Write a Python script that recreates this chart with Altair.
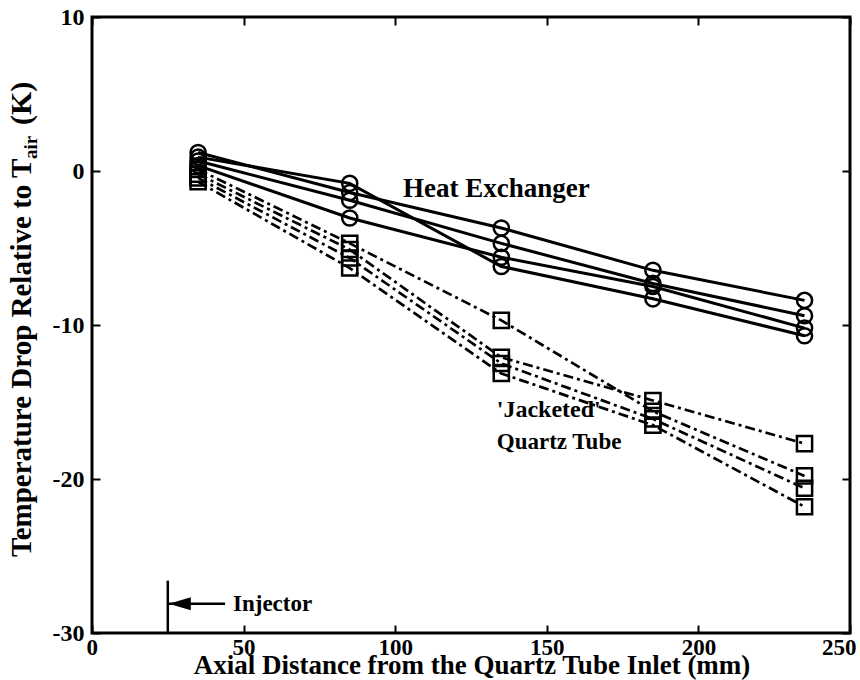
import altair as alt
import pandas as pd

# ---- data ----
x_mm = [35, 85, 135, 185, 235]
he_1 = [0.9, -0.8, -6.2, -8.3, -10.7]
he_2 = [1.2, -1.4, -3.7, -6.45, -8.4]
he_3 = [0.65, -1.9, -4.7, -7.3, -9.4]
he_4 = [0.35, -3.05, -5.6, -7.5, -10.2]
qt_1 = [0.1, -4.7, -9.7, -15.6, -19.8]
qt_2 = [-0.2, -5.1, -12.1, -14.9, -17.7]
qt_3 = [-0.45, -5.65, -12.5, -16.1, -20.6]
qt_4 = [-0.7, -6.3, -13.15, -16.5, -21.8]

x_ticks = [0, 50, 100, 150, 200, 250]
y_ticks = [-30, -20, -10, 0, 10]

injector_x = [25]
injector_line_y = [-30, -26.6]
arrow_x = [25, 43.9]
arrow_y = [-28.1]

FONT = "Liberation Serif"

rows = []
for name, ser in [("he1", he_1), ("he2", he_2), ("he3", he_3), ("he4", he_4)]:
    for xv, yv in zip(x_mm, ser):
        rows.append({"x": xv, "y": yv, "s": name})
he_df = pd.DataFrame(rows)
rows = []
for name, ser in [("qt1", qt_1), ("qt2", qt_2), ("qt3", qt_3), ("qt4", qt_4)]:
    for xv, yv in zip(x_mm, ser):
        rows.append({"x": xv, "y": yv, "s": name})
qt_df = pd.DataFrame(rows)

xs = alt.Scale(domain=[0, 250], nice=False, zero=False)
ys = alt.Scale(domain=[-30, 10], nice=False, zero=False)

hyphen = "datum.value < 0 ? '-' + abs(datum.value) : '' + datum.value"

x_lab_axis = alt.Axis(values=x_ticks, ticks=False, domain=False, grid=False,
                      labelFont=FONT, labelFontSize=23, labelFontWeight="bold",
                      labelColor="black", labelPadding=3, labelFlush=True,
                      labelFlushOffset=6, title="")
y_lab_axis = alt.Axis(values=y_ticks, ticks=False, domain=False, grid=False,
                      labelFont=FONT, labelFontSize=24, labelFontWeight="bold",
                      labelColor="black", labelPadding=8, labelExpr=hyphen,
                      title="")
x_tick_bottom = alt.Axis(values=x_ticks, orient="bottom", offset=-8, tickSize=8,
                         tickWidth=2, tickColor="black", labels=False,
                         domain=False, grid=False, title="")
y_tick_left = alt.Axis(values=y_ticks, orient="left", offset=-8, tickSize=8,
                       tickWidth=2, tickColor="black", labels=False,
                       domain=False, grid=False, title="")
x_tick_top = alt.Axis(values=x_ticks, orient="top", offset=-8, tickSize=8,
                      tickWidth=2, tickColor="black", labels=False,
                      domain=False, grid=False, title="")
y_tick_right = alt.Axis(values=y_ticks, orient="right", offset=-8, tickSize=8,
                        tickWidth=2, tickColor="black", labels=False,
                        domain=False, grid=False, title="")

he_lines = alt.Chart(he_df).mark_line(color="black", strokeWidth=3).encode(
    x=alt.X("x:Q", scale=xs, axis=x_lab_axis),
    y=alt.Y("y:Q", scale=ys, axis=y_lab_axis),
    detail="s:N", order="x:Q")

qt_lines = alt.Chart(qt_df).mark_line(color="black", strokeWidth=2.7,
                                      strokeDash=[10, 4, 3, 4]).encode(
    x=alt.X("x:Q", scale=xs, axis=x_tick_bottom),
    y=alt.Y("y:Q", scale=ys, axis=y_tick_left),
    detail="s:N", order="x:Q")

he_pts = alt.Chart(he_df).mark_point(shape="circle", size=230, filled=False,
                                     color="black", strokeWidth=2.5, opacity=1).encode(
    x=alt.X("x:Q", scale=xs, axis=x_tick_top),
    y=alt.Y("y:Q", scale=ys, axis=y_tick_right))

qt_pts = alt.Chart(qt_df).mark_point(shape="square", size=230, filled=False,
                                     color="black", strokeWidth=2.5, opacity=1).encode(
    x=alt.X("x:Q", scale=xs, axis=None),
    y=alt.Y("y:Q", scale=ys, axis=None))

inj_df = pd.DataFrame({"x": injector_x * 2, "y": injector_line_y})
inj_line = alt.Chart(inj_df).mark_line(color="black", strokeWidth=2.5).encode(
    x=alt.X("x:Q", scale=xs, axis=None),
    y=alt.Y("y:Q", scale=ys, axis=None))

arr_df = pd.DataFrame({"x": arrow_x, "y": arrow_y * 2})
arr_line = alt.Chart(arr_df).mark_line(color="black", strokeWidth=2.5).encode(
    x=alt.X("x:Q", scale=xs, axis=None),
    y=alt.Y("y:Q", scale=ys, axis=None))

head_df = pd.DataFrame({"x": injector_x, "y": arrow_y})
arr_head = alt.Chart(head_df).mark_point(
    shape="M -1 0 L 1 -0.6 L 1 0.6 Z", size=484, filled=True, color="black",
    opacity=1, xOffset=12).encode(
    x=alt.X("x:Q", scale=xs, axis=None),
    y=alt.Y("y:Q", scale=ys, axis=None))

ann_df = pd.DataFrame({
    "x": [102.6, 133.5, 133.5, 46.5],
    "y": [-1.2, -15.5, -17.6, -28.1],
    "t": ["Heat Exchanger", "'Jacketed'", "Quartz Tube", "Injector"],
    "fs": [27, 24, 23, 23],
})
ann = alt.Chart(ann_df).mark_text(font=FONT, fontWeight="bold", align="left",
                                  baseline="middle", color="black").encode(
    x=alt.X("x:Q", scale=xs, axis=None),
    y=alt.Y("y:Q", scale=ys, axis=None),
    text="t:N",
    size=alt.Size("fs:Q", scale=None, legend=None))

# x-axis title
xt = alt.Chart(pd.DataFrame({"t": ["Axial Distance from the Quartz Tube Inlet (mm)"]})).mark_text(
    font=FONT, fontWeight="bold", fontSize=27, align="center",
    baseline="alphabetic", color="black").encode(
    text="t:N", x=alt.value(380), y=alt.value(657))

# y-axis title with subscript
yt_main = alt.Chart(pd.DataFrame({"t": ["Temperature Drop Relative to T"]})).mark_text(
    font=FONT, fontWeight="bold", fontSize=29, angle=270, align="left",
    baseline="middle", color="black").encode(
    text="t:N", x=alt.value(-70), y=alt.value(540))
yt_sub = alt.Chart(pd.DataFrame({"t": ["air"]})).mark_text(
    font=FONT, fontWeight="bold", fontSize=19, angle=270, align="left",
    baseline="middle", color="black").encode(
    text="t:N", x=alt.value(-61), y=alt.value(142))
yt_unit = alt.Chart(pd.DataFrame({"t": ["(K)"]})).mark_text(
    font=FONT, fontWeight="bold", fontSize=30, angle=270, align="left",
    baseline="middle", color="black").encode(
    text="t:N", x=alt.value(-70), y=alt.value(108))

chart = alt.layer(
    he_lines, qt_lines, he_pts, qt_pts, inj_line, arr_line, arr_head, ann,
    xt, yt_main, yt_sub, yt_unit
).resolve_axis(x="independent", y="independent").properties(
    width=758, height=616,
    autosize=alt.AutoSizeParams(type="none"),
    padding={"left": 92, "top": 17, "right": 10, "bottom": 47},
    background="white",
).configure_view(stroke="black", strokeWidth=3)

chart.save("out.html", embed_options={"renderer": "svg", "actions": False})
